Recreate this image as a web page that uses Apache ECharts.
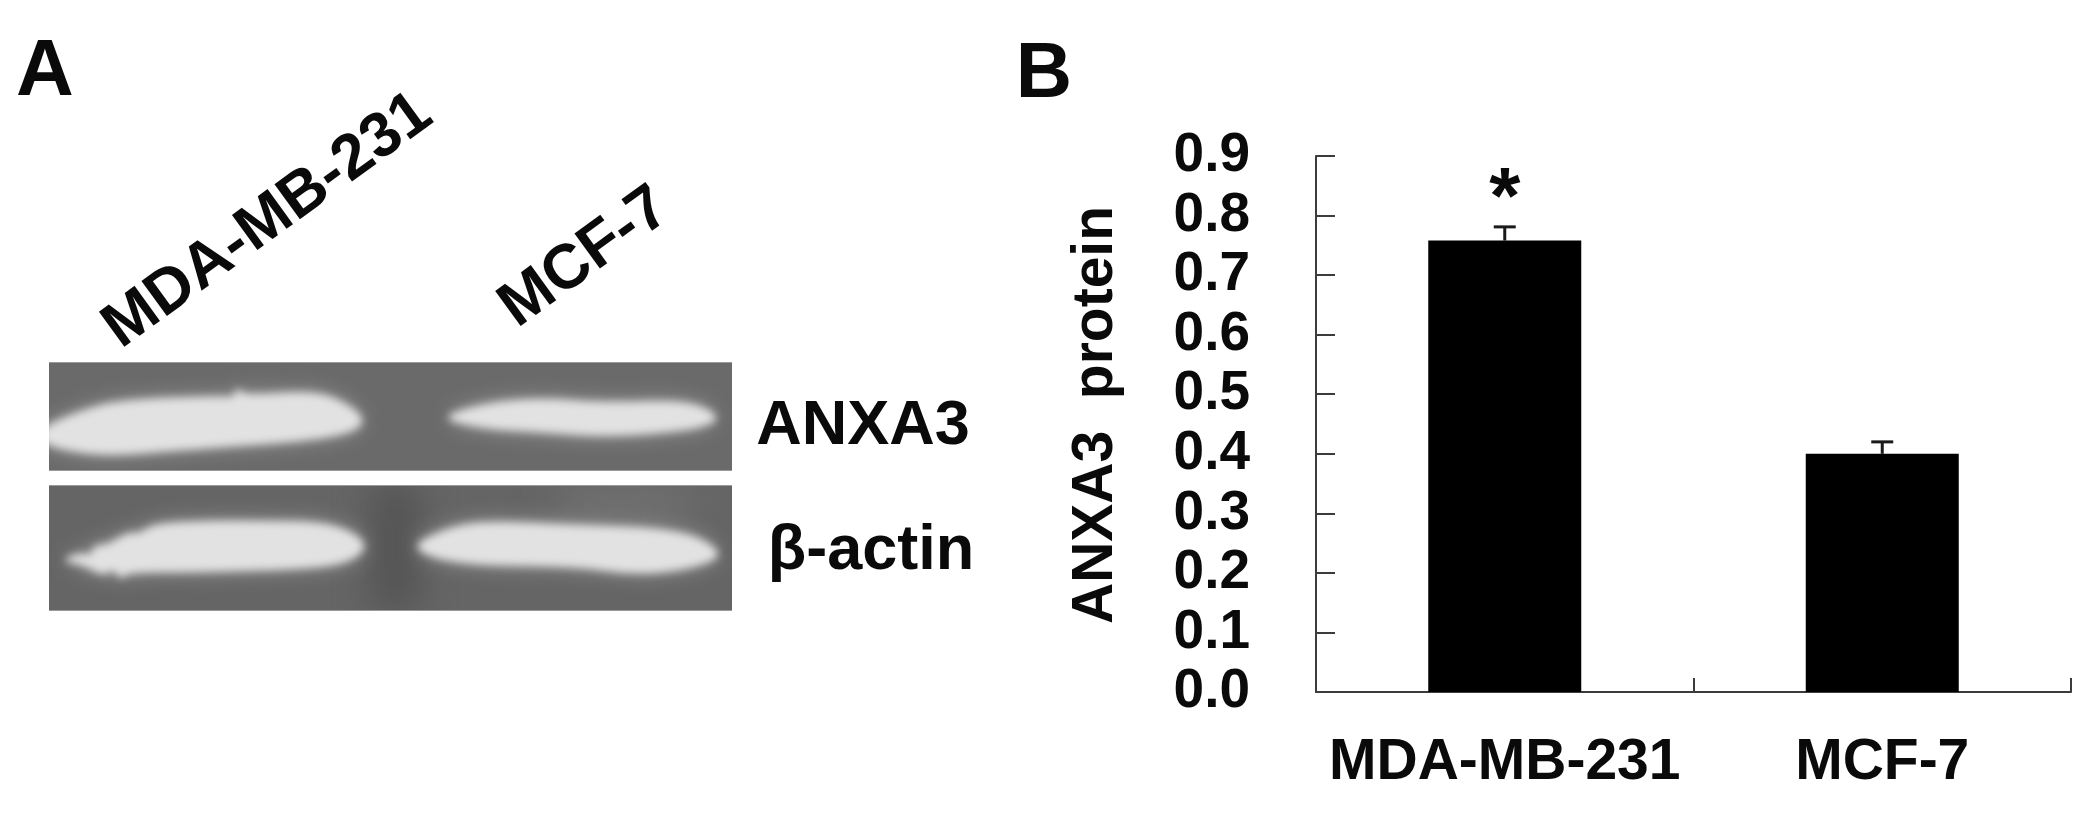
<!DOCTYPE html>
<html><head><meta charset="utf-8"><style>html,body{margin:0;padding:0;background:#fff}#c{width:2088px;height:817px}</style>
<script src="https://cdn.jsdelivr.net/npm/echarts@6/dist/echarts.min.js"></script></head>
<body><div id="c"></div><script>
const categories = ['MDA-MB-231', 'MCF-7'];
const proteinValues = [0.758, 0.40];
const errorValues = [0.023, 0.02];
const sigMarks = ['*', ''];
const yAxisLabel = 'ANXA3  protein';
const blotLabels = ['ANXA3', 'β-actin'];

// Blot photograph outlines (page pixels, decoration of panel A, not data)
const blotPanels = [[49, 362, 683, 109], [49, 485, 683, 126]];
const blotBands = [
 [[40,428],[83,410],[121,400],[223,396],[234,398],[237,386],[243,396],[306,391],[338,398],[366,418],[355,432],[306,441],[191,449],[108,456],[64,450],[40,442]],
 [[436,418],[485,403],[542,398],[606,403],[689,400],[724,418],[695,430],[606,437],[542,432],[485,429]],
 [[60,561],[80,552],[90,556],[96,544],[106,546],[128,532],[140,534],[153,524],[204,521],[255,521],[332,522],[370,543],[352,562],[306,569],[191,572],[128,572],[120,580],[114,568],[104,576],[83,565]],
 [[406,548],[447,528],[485,521],[574,525],[683,529],[727,554],[695,568],[638,575],[574,566],[459,565]]
];

function blotImage() {
  const cv = document.createElement('canvas');
  cv.width = 2088; cv.height = 817;
  const g = cv.getContext('2d');
  blotPanels.forEach(function (p, idx) {
    g.save();
    g.beginPath(); g.rect(p[0], p[1], p[2], p[3]); g.clip();
    g.fillStyle = idx === 0 ? '#6a6a6a' : '#656565';
    g.fillRect(p[0], p[1], p[2], p[3]);
    if (idx === 1) {
      g.filter = 'blur(16px)';
      g.fillStyle = '#555555';
      g.fillRect(370, 485, 50, 125);
      g.filter = 'blur(22px)';
      g.fillStyle = '#767676';
      g.fillRect(560, 490, 130, 30);
    }
    [idx * 2, idx * 2 + 1].forEach(function (b) {
      const pts = blotBands[b];
      const n = pts.length;
      const trace = function () {
        g.beginPath();
        const mid = (a, c) => [(a[0] + c[0]) / 2, (a[1] + c[1]) / 2];
        const st = mid(pts[n - 1], pts[0]);
        g.moveTo(st[0], st[1]);
        pts.forEach(function (q, i) {
          const m = mid(q, pts[(i + 1) % n]);
          g.quadraticCurveTo(q[0], q[1], m[0], m[1]);
        });
        g.closePath();
      };
      g.filter = 'blur(11px)'; g.fillStyle = 'rgba(170,170,170,0.8)'; trace(); g.fill();
      g.filter = 'blur(4.5px)'; g.fillStyle = '#e2e2e2'; trace(); g.fill();
    });
    g.restore();
    g.filter = 'none';
    g.fillStyle = '#9a9a9a';
    g.fillRect(p[0], p[1], p[2], 1);
    g.fillRect(p[0], p[1] + p[3] - 1, p[2], 1);
  });
  return cv;
}

const font = '"Liberation Sans", Arial, sans-serif';
const chart = echarts.init(document.getElementById('c'), null, {renderer: 'canvas'});
const text = (t, x, y, size, rot) => ({
  type: 'text', x: x, y: y, rotation: rot ? rot * Math.PI / 180 : 0, z: 10,
  style: {text: t, font: 'bold ' + size + 'px ' + font, fill: '#0a0a0a', align: 'center', verticalAlign: 'middle'}
});

chart.setOption({
  animation: false,
  backgroundColor: '#ffffff',
  graphic: [
    {type: 'image', x: 0, y: 0, z: 1, style: {image: blotImage(), x: 0, y: 0, width: 2088, height: 817}},
    text('A', 45, 73, 80),
    text('B', 1044, 75, 78),
    text(categories[0], 268, 221, 63, 36),
    text(categories[1], 585, 258, 63, 36),
    text(blotLabels[0], 863, 427, 63),
    text(blotLabels[1], 871, 552, 63)
  ],
  grid: {left: 1316, top: 156, width: 755, height: 536, containLabel: false},
  xAxis: {
    type: 'category', data: categories,
    axisLine: {lineStyle: {color: '#3c3c3c', width: 2}},
    axisTick: {show: true, inside: true, length: 14, alignWithLabel: false, lineStyle: {color: '#3c3c3c', width: 2}},
    axisLabel: {color: '#0a0a0a', fontFamily: font, fontWeight: 'bold', fontSize: 57, margin: 43, interval: 0}
  },
  yAxis: {
    type: 'value', min: 0, max: 0.9, interval: 0.1,
    name: yAxisLabel, nameLocation: 'middle', nameGap: 191, nameRotate: 90,
    nameTextStyle: {color: '#0a0a0a', fontFamily: font, fontWeight: 'bold', fontSize: 57, padding: [0, 0, 0, 18]},
    axisLine: {show: true, lineStyle: {color: '#3c3c3c', width: 2}},
    axisTick: {show: true, inside: true, length: 19, lineStyle: {color: '#3c3c3c', width: 2}},
    splitLine: {show: false},
    axisLabel: {color: '#0a0a0a', fontFamily: font, fontWeight: 'bold', fontSize: 55, margin: 66, padding: [9, 0, 0, 0],
      formatter: v => v.toFixed(1)}
  },
  series: [
    {
      type: 'bar', data: proteinValues, barWidth: 153,
      itemStyle: {color: '#000000'}, z: 3,
      label: {show: true, position: 'top', distance: 0, color: '#0a0a0a', fontFamily: font, fontWeight: 'bold', fontSize: 80,
        formatter: p => sigMarks[p.dataIndex]}
    },
    {
      type: 'custom', z: 2,
      data: proteinValues.map((v, i) => [i, v, v + errorValues[i]]),
      encode: {x: 0, y: [1, 2]},
      renderItem: function (params, api) {
        const base = api.coord([api.value(0), api.value(1)]);
        const top = api.coord([api.value(0), api.value(2)]);
        const st = {stroke: '#1a1a1a', lineWidth: 3};
        return {type: 'group', children: [
          {type: 'line', shape: {x1: base[0], y1: base[1], x2: top[0], y2: top[1]}, style: st},
          {type: 'line', shape: {x1: base[0] - 11, y1: top[1], x2: base[0] + 11, y2: top[1]}, style: st}
        ]};
      }
    }
  ]
});
</script></body></html>
